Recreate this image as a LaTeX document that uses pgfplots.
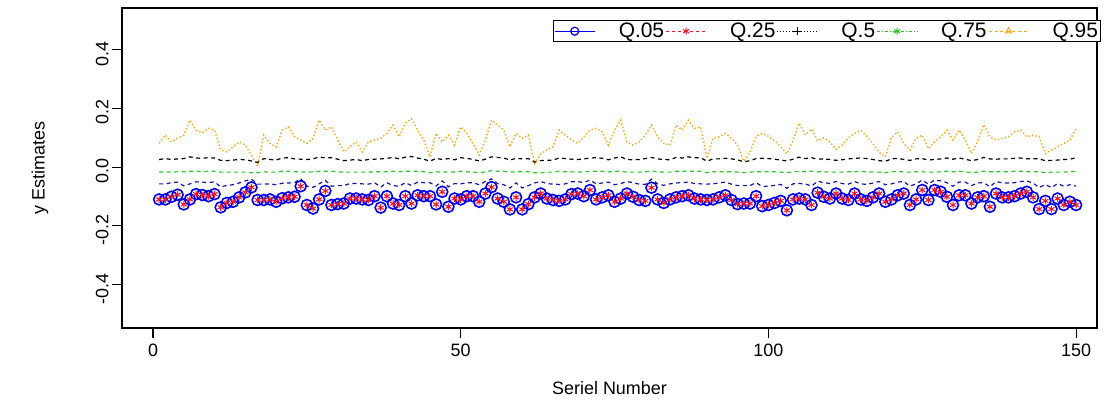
\documentclass[border=0pt]{standalone}
\usepackage{pgfplots}
\pgfplotsset{compat=1.18}
\usepackage{pgfplotstable}
\usepackage{fontspec}
\setmainfont{Liberation Sans}
\definecolor{rblue}{RGB}{0,0,235}
\definecolor{dblue}{RGB}{20,20,170}
\definecolor{rred}{RGB}{240,20,40}
\definecolor{rorange}{RGB}{245,170,30}
\definecolor{rgreen}{RGB}{40,200,40}

\pgfplotstableread{
i p b k g o
1 -0.110 -0.057 0.026 -0.017 0.081
2 -0.110 -0.057 0.029 -0.016 0.109
3 -0.101 -0.053 0.026 -0.017 0.086
4 -0.094 -0.051 0.028 -0.016 0.098
5 -0.127 -0.064 0.029 -0.016 0.109
6 -0.110 -0.057 0.035 -0.014 0.160
7 -0.092 -0.050 0.031 -0.014 0.126
8 -0.095 -0.051 0.030 -0.016 0.117
9 -0.099 -0.053 0.032 -0.014 0.132
10 -0.092 -0.050 0.031 -0.014 0.126
11 -0.137 -0.068 0.023 -0.017 0.058
12 -0.122 -0.062 0.022 -0.017 0.052
13 -0.118 -0.060 0.024 -0.017 0.069
14 -0.103 -0.054 0.026 -0.017 0.086
15 -0.086 -0.047 0.025 -0.017 0.075
16 -0.069 -0.041 0.021 -0.019 0.040
17 -0.112 -0.058 0.016 -0.019 0.003
18 -0.112 -0.058 0.029 -0.016 0.109
19 -0.110 -0.057 0.026 -0.017 0.081
20 -0.118 -0.060 0.024 -0.017 0.069
21 -0.106 -0.055 0.031 -0.014 0.126
22 -0.103 -0.054 0.032 -0.014 0.137
23 -0.101 -0.053 0.028 -0.016 0.103
24 -0.065 -0.039 0.027 -0.016 0.092
25 -0.129 -0.065 0.026 -0.017 0.081
26 -0.141 -0.069 0.028 -0.016 0.098
27 -0.110 -0.057 0.035 -0.014 0.160
28 -0.081 -0.045 0.031 -0.014 0.126
29 -0.129 -0.065 0.032 -0.014 0.137
30 -0.126 -0.063 0.027 -0.016 0.092
31 -0.124 -0.063 0.022 -0.017 0.052
32 -0.107 -0.056 0.024 -0.017 0.069
33 -0.107 -0.056 0.026 -0.017 0.086
34 -0.110 -0.057 0.022 -0.017 0.052
35 -0.112 -0.058 0.026 -0.017 0.086
36 -0.099 -0.053 0.027 -0.016 0.092
37 -0.138 -0.068 0.028 -0.016 0.098
38 -0.099 -0.053 0.030 -0.016 0.115
39 -0.124 -0.063 0.033 -0.014 0.143
40 -0.129 -0.065 0.028 -0.016 0.103
41 -0.099 -0.053 0.034 -0.014 0.149
42 -0.124 -0.063 0.036 -0.014 0.165
43 -0.096 -0.051 0.031 -0.014 0.126
44 -0.099 -0.053 0.027 -0.016 0.092
45 -0.099 -0.053 0.020 -0.019 0.035
46 -0.127 -0.064 0.030 -0.016 0.115
47 -0.084 -0.047 0.026 -0.017 0.086
48 -0.135 -0.067 0.029 -0.016 0.109
49 -0.107 -0.056 0.025 -0.017 0.075
50 -0.110 -0.057 0.032 -0.014 0.137
51 -0.099 -0.053 0.030 -0.016 0.115
52 -0.099 -0.053 0.026 -0.017 0.081
53 -0.118 -0.060 0.021 -0.019 0.041
54 -0.090 -0.049 0.027 -0.016 0.092
55 -0.068 -0.040 0.035 -0.012 0.160
56 -0.107 -0.056 0.033 -0.014 0.143
57 -0.118 -0.060 0.031 -0.014 0.126
58 -0.144 -0.071 0.024 -0.017 0.069
59 -0.103 -0.054 0.030 -0.016 0.115
60 -0.144 -0.071 0.028 -0.016 0.098
61 -0.126 -0.063 0.029 -0.016 0.109
62 -0.103 -0.054 0.017 -0.019 0.012
63 -0.090 -0.049 0.022 -0.019 0.046
64 -0.107 -0.056 0.023 -0.017 0.058
65 -0.112 -0.058 0.024 -0.017 0.069
66 -0.115 -0.059 0.031 -0.014 0.126
67 -0.110 -0.057 0.029 -0.016 0.109
68 -0.092 -0.050 0.027 -0.016 0.092
69 -0.090 -0.049 0.026 -0.017 0.081
70 -0.099 -0.053 0.028 -0.016 0.103
71 -0.078 -0.044 0.031 -0.014 0.126
72 -0.110 -0.057 0.032 -0.014 0.132
73 -0.103 -0.054 0.030 -0.014 0.120
74 -0.096 -0.051 0.025 -0.017 0.075
75 -0.118 -0.060 0.031 -0.014 0.126
76 -0.107 -0.056 0.035 -0.014 0.160
77 -0.090 -0.049 0.026 -0.017 0.086
78 -0.101 -0.053 0.025 -0.017 0.075
79 -0.112 -0.058 0.026 -0.017 0.086
80 -0.115 -0.059 0.029 -0.016 0.109
81 -0.070 -0.041 0.033 -0.013 0.143
82 -0.110 -0.057 0.028 -0.016 0.103
83 -0.122 -0.062 0.026 -0.017 0.081
84 -0.110 -0.057 0.025 -0.017 0.075
85 -0.103 -0.054 0.033 -0.014 0.143
86 -0.099 -0.053 0.031 -0.014 0.126
87 -0.096 -0.051 0.035 -0.014 0.160
88 -0.107 -0.056 0.032 -0.014 0.132
89 -0.110 -0.057 0.032 -0.014 0.137
90 -0.112 -0.058 0.020 -0.019 0.030
91 -0.110 -0.057 0.028 -0.016 0.098
92 -0.103 -0.054 0.028 -0.016 0.103
93 -0.096 -0.051 0.030 -0.016 0.115
94 -0.112 -0.058 0.028 -0.016 0.098
95 -0.126 -0.063 0.025 -0.017 0.075
96 -0.124 -0.063 0.018 -0.019 0.020
97 -0.124 -0.063 0.022 -0.017 0.050
98 -0.099 -0.053 0.029 -0.016 0.105
99 -0.133 -0.066 0.030 -0.016 0.115
100 -0.129 -0.065 0.029 -0.016 0.105
101 -0.122 -0.062 0.027 -0.016 0.090
102 -0.115 -0.059 0.024 -0.017 0.070
103 -0.147 -0.072 0.021 -0.019 0.045
104 -0.110 -0.057 0.027 -0.016 0.090
105 -0.107 -0.056 0.034 -0.014 0.150
106 -0.110 -0.057 0.029 -0.016 0.110
107 -0.129 -0.065 0.032 -0.014 0.130
108 -0.087 -0.048 0.027 -0.016 0.090
109 -0.101 -0.053 0.028 -0.016 0.100
110 -0.107 -0.056 0.026 -0.017 0.085
111 -0.090 -0.049 0.023 -0.017 0.060
112 -0.107 -0.056 0.025 -0.017 0.075
113 -0.112 -0.058 0.028 -0.016 0.100
114 -0.090 -0.049 0.030 -0.016 0.115
115 -0.110 -0.057 0.031 -0.014 0.125
116 -0.115 -0.059 0.029 -0.016 0.105
117 -0.103 -0.054 0.026 -0.017 0.080
118 -0.090 -0.049 0.022 -0.017 0.050
119 -0.118 -0.060 0.020 -0.019 0.035
120 -0.110 -0.057 0.028 -0.016 0.100
121 -0.096 -0.051 0.030 -0.014 0.120
122 -0.090 -0.049 0.026 -0.017 0.081
123 -0.129 -0.065 0.023 -0.017 0.058
124 -0.110 -0.057 0.028 -0.016 0.098
125 -0.078 -0.044 0.029 -0.016 0.109
126 -0.112 -0.058 0.024 -0.017 0.063
127 -0.078 -0.044 0.026 -0.017 0.086
128 -0.084 -0.047 0.028 -0.016 0.103
129 -0.101 -0.053 0.031 -0.014 0.126
130 -0.129 -0.065 0.027 -0.016 0.092
131 -0.096 -0.051 0.031 -0.014 0.126
132 -0.096 -0.051 0.027 -0.016 0.092
133 -0.124 -0.063 0.022 -0.019 0.046
134 -0.103 -0.054 0.026 -0.017 0.086
135 -0.099 -0.053 0.033 -0.014 0.145
136 -0.135 -0.067 0.028 -0.016 0.103
137 -0.090 -0.049 0.027 -0.016 0.092
138 -0.103 -0.054 0.028 -0.016 0.098
139 -0.103 -0.054 0.028 -0.016 0.103
140 -0.099 -0.053 0.030 -0.014 0.120
141 -0.090 -0.049 0.031 -0.014 0.126
142 -0.084 -0.047 0.028 -0.016 0.103
143 -0.103 -0.054 0.029 -0.016 0.109
144 -0.143 -0.070 0.028 -0.016 0.103
145 -0.115 -0.059 0.022 -0.019 0.046
146 -0.143 -0.070 0.023 -0.017 0.058
147 -0.107 -0.056 0.024 -0.017 0.069
148 -0.129 -0.065 0.026 -0.017 0.081
149 -0.118 -0.060 0.027 -0.016 0.092
150 -0.129 -0.065 0.032 -0.014 0.132
}\data

\begin{document}
\begin{tikzpicture}
\begin{axis}[
  name=ax,
  scale only axis,
  width=975bp, height=320bp,
  xmin=-5.04, xmax=153.4,
  ymin=-0.548, ymax=0.542,
  axis line style={line width=1.1bp},
  tick style={line width=1.1bp, black},
  tick pos=left, tick align=outside,
  major tick length=10bp,
  xtick={0,50,100,150},
  ytick={-0.4,-0.2,0,0.2,0.4},
  yticklabels={{-0.4},{-0.2},{0.0},{0.2},{0.4}},
  xticklabels={0,50,100,150},
  ticklabel style={font=\fontsize{18}{18}\selectfont},
  yticklabel style={rotate=90, anchor=south, xshift=-4bp},
  xticklabel style={yshift=-2bp},
  xlabel={Seriel Number},
  ylabel={y Estimates},
  every axis x label/.style={at={(axis description cs:0.5,-0.1875)}, anchor=center, font=\fontsize{18}{18}\selectfont},
  every axis y label/.style={at={(axis description cs:-0.084,0.5)}, anchor=center, rotate=90, font=\fontsize{18}{18}\selectfont},
  legend columns=5,
  legend image code/.code={\draw[mark repeat=2,mark phase=2,#1] plot coordinates {(0bp,0bp) (20bp,0bp) (40bp,0bp)};},
  legend style={at={(axis description cs:1.004,0.962)}, anchor=north east,
    draw=black, line width=1bp, inner sep=1bp,
    font=\fontsize{21}{21}\selectfont,
    /tikz/every odd column/.append style={column sep=22bp},
    /tikz/every even column/.append style={column sep=0bp},
    nodes={inner sep=1.5bp}},
]
\addlegendimage{rblue, line width=1bp, mark=o, mark size=4bp, mark options={solid, line width=1.2bp}}
\addlegendimage{rred, line width=1bp, dashed, mark=asterisk, mark size=3.5bp, mark options={solid}}
\addlegendimage{black, line width=1bp, dotted, mark=+, mark size=4bp, mark options={solid, line width=1.3bp}}
\addlegendimage{rgreen, line width=1bp, dash dot, mark=asterisk, mark size=3.5bp, mark options={solid}}
\addlegendimage{rorange, line width=1bp, dashed, mark=triangle, mark size=3.5bp, mark options={solid}}
\legend{Q.05,Q.25,Q.5,Q.75,Q.95}

\addplot[forget plot, rorange, line width=1.5bp, dash pattern=on 1.4bp off 2.2bp] table[x=i, y=o] {\data};
\addplot[forget plot, black, line width=1.2bp, dash pattern=on 4bp off 3.5bp] table[x=i, y=k] {\data};
\addplot[forget plot, rgreen, line width=1.2bp, dash pattern=on 4bp off 3.5bp] table[x=i, y=g] {\data};
\addplot[forget plot, dblue, line width=1.2bp, dash pattern=on 4bp off 3.5bp] table[x=i, y=b] {\data};
\addplot[forget plot, only marks, mark=o, mark size=5.5bp, mark options={draw=rblue, line width=1.6bp, fill=none}] table[x=i, y=p] {\data};
\addplot[forget plot, only marks, mark=asterisk, mark size=3.5bp, mark options={draw=rred, line width=1bp}] table[x=i, y=p] {\data};
\end{axis}
\pgfresetboundingbox
\path ([shift={(-122bp,-77bp)}]ax.south west) rectangle ([shift={(14bp,8bp)}]ax.north east);
\end{tikzpicture}
\end{document}
